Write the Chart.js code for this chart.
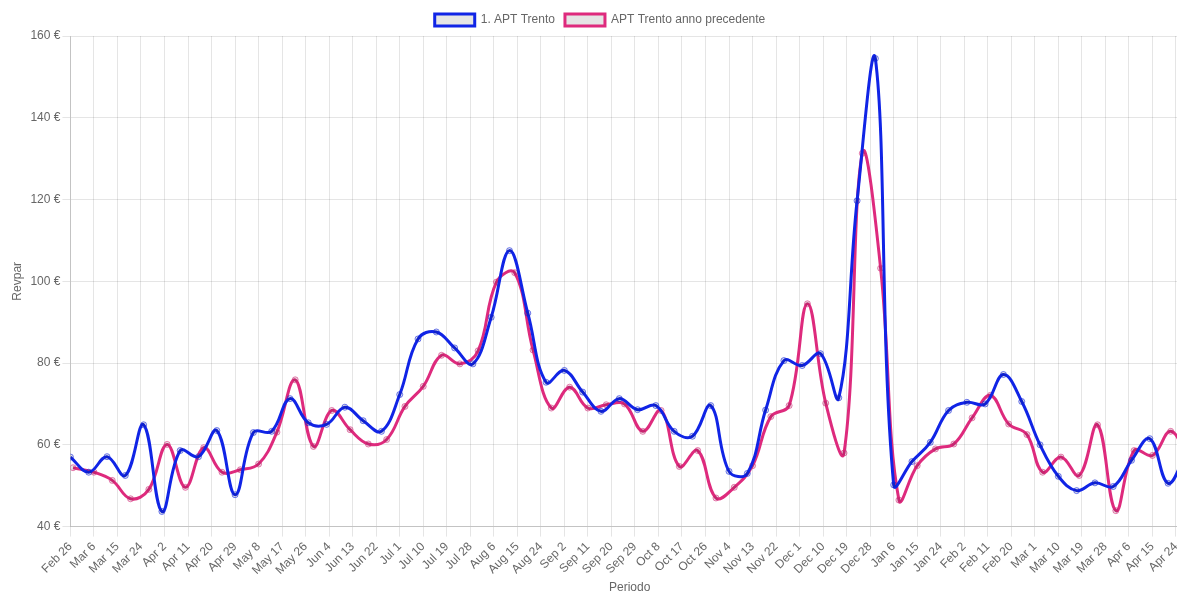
<!DOCTYPE html>
<html>
<head>
<meta charset="utf-8">
<script src="https://cdn.jsdelivr.net/npm/chart.js@4.4.1/dist/chart.umd.min.js"></script>
<style>
  html, body { margin: 0; padding: 0; background: #fff; overflow: hidden; }
  #box { width: 1194px; height: 593px; }
</style>
</head>
<body>
<div id="box"><canvas id="grafico"></canvas></div>
<script>
// date delle settimane (lunedi) - anno corrente
var dateAttuali = [
  '2024-02-26','2024-03-04','2024-03-11','2024-03-18','2024-03-25','2024-04-01','2024-04-08','2024-04-15',
  '2024-04-22','2024-04-29','2024-05-06','2024-05-13','2024-05-20','2024-05-27','2024-06-03','2024-06-10',
  '2024-06-17','2024-06-24','2024-07-01','2024-07-08','2024-07-15','2024-07-22','2024-07-29','2024-08-05',
  '2024-08-12','2024-08-19','2024-08-26','2024-09-02','2024-09-09','2024-09-16','2024-09-23','2024-09-30',
  '2024-10-07','2024-10-14','2024-10-21','2024-10-28','2024-11-04','2024-11-11','2024-11-18','2024-11-25',
  '2024-12-02','2024-12-09','2024-12-16','2024-12-23','2024-12-30','2025-01-06','2025-01-13','2025-01-20',
  '2025-01-27','2025-02-03','2025-02-10','2025-02-17','2025-02-24','2025-03-03','2025-03-10','2025-03-17',
  '2025-03-24','2025-03-31','2025-04-07','2025-04-14','2025-04-21','2025-04-28'
];
var revparAttuale = [
  57.0, 53.3, 57.1, 52.5, 64.9, 43.7, 58.6, 57.1,
  63.5, 47.8, 63.0, 63.3, 71.3, 65.4, 65.0, 69.2,
  65.9, 63.3, 72.3, 85.9, 87.6, 83.7, 79.8, 91.2,
  107.5, 92.2, 75.3, 78.2, 72.9, 68.2, 71.3, 68.6,
  69.6, 63.3, 62.1, 69.6, 53.5, 53.0, 68.5, 80.6,
  79.4, 82.3, 71.5, 119.7, 154.5, 50.2, 55.9, 60.6,
  68.4, 70.4, 70.0, 77.2, 70.6, 60.0, 52.3, 48.8,
  50.7, 49.8, 56.2, 61.5, 50.6, 58.0
];

// anno precedente riportato sulla stessa data
var datePrecedenti = [
  '2024-02-27','2024-03-06','2024-03-13','2024-03-20','2024-03-27','2024-04-03','2024-04-10','2024-04-17',
  '2024-04-24','2024-05-01','2024-05-08','2024-05-15','2024-05-22','2024-05-29','2024-06-05','2024-06-12',
  '2024-06-19','2024-06-26','2024-07-03','2024-07-10','2024-07-17','2024-07-24','2024-07-31','2024-08-07',
  '2024-08-14','2024-08-21','2024-08-28','2024-09-04','2024-09-11','2024-09-18','2024-09-25','2024-10-02',
  '2024-10-09','2024-10-16','2024-10-23','2024-10-30','2024-11-06','2024-11-13','2024-11-20','2024-11-27',
  '2024-12-04','2024-12-11','2024-12-18','2024-12-25','2025-01-01','2025-01-08','2025-01-15','2025-01-22',
  '2025-01-29','2025-02-05','2025-02-12','2025-02-19','2025-02-26','2025-03-04','2025-03-11','2025-03-18',
  '2025-03-25','2025-04-01','2025-04-08','2025-04-15','2025-04-22','2025-04-29'
];
var revparPrecedente = [
  54.4, 53.3, 51.3, 46.8, 49.1, 60.1, 49.6, 59.3,
  53.3, 53.9, 55.3, 63.1, 75.9, 59.6, 68.4, 63.7,
  60.2, 61.3, 69.4, 74.3, 81.9, 79.8, 83.0, 99.8,
  102.1, 83.2, 69.0, 74.1, 69.0, 69.8, 70.0, 63.3,
  68.4, 54.7, 58.6, 47.0, 49.6, 54.9, 66.9, 69.6,
  94.5, 70.2, 58.0, 131.3, 103.2, 46.5, 54.9, 59.0,
  60.2, 66.6, 72.1, 65.1, 62.5, 53.3, 57.0, 52.5,
  64.9, 43.9, 58.6, 57.4, 63.3, 56.0
];

// asse: dal primo all'ultimo punto, etichetta ogni 9 giorni
var inizioAsse = '2024-02-26';
var fineAsse = '2025-04-29';
var passoGiorni = 9;
var mesi = ['Jan','Feb','Mar','Apr','May','Jun','Jul','Aug','Sep','Oct','Nov','Dec'];

var GIORNO = 86400000;
var t0 = Date.parse(inizioAsse);
function giorni(s) { return Math.round((Date.parse(s) - t0) / GIORNO); }
function etichetta(g) {
  var d = new Date(t0 + g * GIORNO);
  return mesi[d.getUTCMonth()] + ' ' + d.getUTCDate();
}
function punti(date, valori) {
  return date.map(function (s, i) { return { x: giorni(s), y: valori[i] }; });
}

Chart.defaults.font.family = "Arial, 'Liberation Sans', Helvetica, sans-serif";
Chart.defaults.font.size = 12;
Chart.defaults.color = '#666';

var blu = 'rgb(16, 36, 230)';
var rosa = 'rgb(222, 42, 125)';

var ctx = document.getElementById('grafico');
var grafico = new Chart(ctx, {
  type: 'line',
  data: {
    datasets: [{
      label: '1. APT Trento',
      data: punti(dateAttuali, revparAttuale),
      borderColor: blu,
      backgroundColor: 'rgba(0,0,0,0.1)',
      borderWidth: 3,
      tension: 0.4,
      fill: false,
      pointRadius: 3,
      pointBorderWidth: 1,
      pointBorderColor: 'rgba(16, 36, 230, 0.6)',
      pointBackgroundColor: 'rgba(0,0,0,0.1)'
    }, {
      label: 'APT Trento anno precedente',
      data: punti(datePrecedenti, revparPrecedente),
      borderColor: rosa,
      backgroundColor: 'rgba(0,0,0,0.1)',
      borderWidth: 3,
      tension: 0.4,
      fill: false,
      pointRadius: 3,
      pointBorderWidth: 1,
      pointBorderColor: 'rgba(222, 42, 125, 0.6)',
      pointBackgroundColor: 'rgba(0,0,0,0.1)'
    }]
  },
  options: {
    responsive: true,
    maintainAspectRatio: false,
    animation: false,
    layout: { padding: { left: 6, right: 0, top: 4, bottom: -2 } },
    plugins: {
      legend: {
        position: 'top',
        labels: { boxWidth: 40, boxHeight: 12, padding: 10, color: '#666' }
      },
      tooltip: { enabled: false }
    },
    scales: {
      x: {
        type: 'linear',
        min: 0,
        max: giorni(fineAsse),
        afterBuildTicks: function (scale) {
          scale.ticks = scale.ticks.filter(function (t) { return t.value % passoGiorni === 0; });
        },
        ticks: {
          stepSize: passoGiorni,
          includeBounds: false,
          autoSkip: false,
          minRotation: 45,
          maxRotation: 45,
          callback: function (v) { return etichetta(v); }
        },
        grid: { color: 'rgba(0,0,0,0.1)', tickLength: 10 },
        border: { color: 'rgba(0,0,0,0.15)' },
        title: { display: true, text: 'Periodo', padding: { top: 0, bottom: 0 } }
      },
      y: {
        min: 40,
        max: 160,
        ticks: {
          stepSize: 20,
          padding: 2,
          callback: function (v) { return v + ' €'; }
        },
        grid: { color: 'rgba(0,0,0,0.1)', tickLength: 8 },
        border: { color: 'rgba(0,0,0,0.15)' },
        title: { display: true, text: 'Revpar', padding: { top: 4, bottom: 4 } }
      }
    }
  }
});
</script>
</body>
</html>
